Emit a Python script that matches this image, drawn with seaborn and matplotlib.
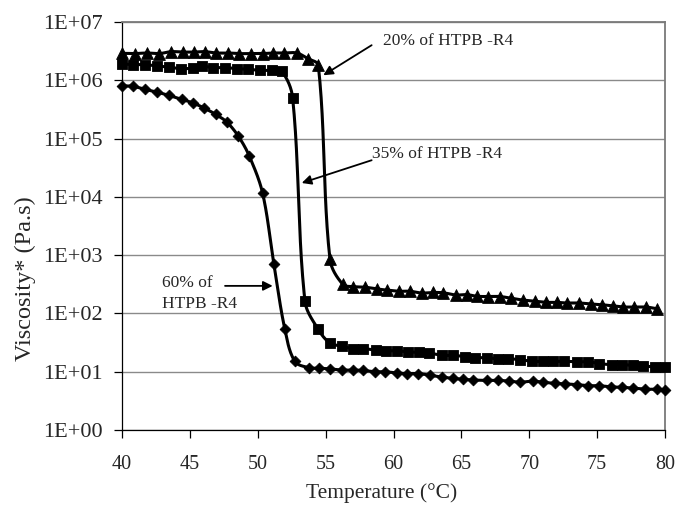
import numpy as np
import pandas as pd
import matplotlib
matplotlib.use("Agg")
import matplotlib.pyplot as plt
import seaborn as sns
from matplotlib.ticker import FixedLocator, FuncFormatter, NullLocator

# 20% of HTPB-R4 (triangles)
temp_20 = [40.00, 40.96, 41.82, 42.75, 43.59, 44.47, 45.33, 46.11, 46.92, 47.83,
           48.64, 49.50, 50.36, 51.15, 51.96, 52.87, 53.68, 54.46, 55.32, 56.26,
           57.04, 57.90, 58.76, 59.54, 60.43, 61.22, 62.08, 62.89, 63.67, 64.60,
           65.39, 66.13, 66.98, 67.85, 68.66, 69.52, 70.42, 71.23, 72.02, 72.76,
           73.69, 74.53, 75.34, 76.15, 76.93, 77.72, 78.60, 79.43]
visc_20 = [2.90e6, 2.87e6, 2.94e6, 2.87e6, 3.10e6, 3.05e6, 3.05e6, 3.10e6, 2.94e6, 2.94e6,
           2.87e6, 2.87e6, 2.87e6, 2.94e6, 2.94e6, 2.94e6, 2.36e6, 1.80e6, 850, 316,
           288, 282, 263, 251, 240, 240, 224, 229, 226, 207,
           211, 197, 195, 195, 182, 170, 162, 155, 155, 151,
           151, 145, 141, 135, 129, 129, 129, 120]

# 35% of HTPB-R4 (squares)
temp_35 = [40.00, 40.83, 41.69, 42.55, 43.46, 44.32, 45.21, 45.87, 46.73, 47.59,
           48.45, 49.30, 50.17, 51.03, 51.76, 52.57, 53.48, 54.46, 55.32, 56.18,
           57.04, 57.73, 58.71, 59.45, 60.23, 61.09, 61.90, 62.64, 63.55, 64.36,
           65.27, 66.00, 66.87, 67.72, 68.46, 69.32, 70.18, 70.99, 71.77, 72.56,
           73.50, 74.35, 75.16, 76.07, 76.81, 77.62, 78.40, 79.26, 80.00]
visc_35 = [1.90e6, 1.86e6, 1.86e6, 1.76e6, 1.69e6, 1.58e6, 1.62e6, 1.74e6, 1.65e6, 1.65e6,
           1.58e6, 1.55e6, 1.48e6, 1.48e6, 1.44e6, 5.0e5, 161, 53, 31, 27.5,
           24.7, 25.0, 23.4, 22.9, 22.9, 21.9, 21.4, 20.9, 19.1, 19.1,
           18.2, 17.4, 17.4, 16.6, 16.6, 16.2, 15.1, 15.1, 15.1, 15.1,
           14.8, 14.8, 13.8, 13.2, 13.2, 12.9, 12.6, 12.0, 12.0]

# 60% of HTPB-R4 (diamonds)
temp_60 = [40.00, 40.79, 41.69, 42.55, 43.46, 44.40, 45.21, 46.04, 46.90, 47.71,
           48.57, 49.38, 50.36, 51.19, 52.00, 52.74, 53.80, 54.53, 55.32, 56.18,
           57.04, 57.78, 58.64, 59.38, 60.24, 61.02, 61.83, 62.69, 63.55, 64.36,
           65.15, 65.88, 66.87, 67.72, 68.53, 69.32, 70.25, 71.03, 71.89, 72.63,
           73.49, 74.35, 75.16, 76.00, 76.81, 77.62, 78.53, 79.39, 80.00]
visc_60 = [8.0e5, 7.9e5, 7.0e5, 6.3e5, 5.5e5, 4.7e5, 4.1e5, 3.35e5, 2.6e5, 1.93e5,
           1.1e5, 5.0e4, 1.15e4, 700, 53, 15, 11.7, 11.5, 11.2, 10.7,
           10.7, 10.5, 10.0, 10.0, 9.5, 9.3, 9.3, 8.7, 8.1, 7.7,
           7.4, 7.2, 7.1, 7.1, 6.9, 6.6, 6.9, 6.6, 6.3, 6.2,
           6.0, 5.75, 5.75, 5.5, 5.4, 5.25, 5.0, 5.0, 4.8]

x_ticks = [40, 45, 50, 55, 60, 65, 70, 75, 80]
y_ticks = [1e0, 1e1, 1e2, 1e3, 1e4, 1e5, 1e6, 1e7]

# screen scale of the axes: pixels per degree and per decade
PX_PER_DEG = 543 / 40.0
PX_PER_DEC = 408 / 7.0


def smooth_curve(xs, ys, steps=24):
    """Smoothed line through the points: cubic Bezier pieces whose handles follow the
    neighbour direction and scale with the length of each segment (screen space)."""
    p = np.column_stack([np.asarray(xs, float) * PX_PER_DEG,
                         np.log10(np.asarray(ys, float)) * PX_PER_DEC])
    n = len(p)
    dirs = np.zeros_like(p)
    for i in range(n):
        a = p[max(i - 1, 0)]
        b = p[min(i + 1, n - 1)]
        d = b - a
        dirs[i] = d / np.hypot(*d)
    t = np.linspace(0, 1, steps + 1)[1:, None]
    out = [p[0]]
    for i in range(n - 1):
        p1, p2 = p[i], p[i + 1]
        arm = np.hypot(*(p2 - p1)) / 3.0
        c1 = p1 + dirs[i] * arm
        c2 = p2 - dirs[i + 1] * arm
        seg = ((1 - t) ** 3) * p1 + 3 * ((1 - t) ** 2) * t * c1 + 3 * (1 - t) * t ** 2 * c2 + t ** 3 * p2
        out.extend(seg)
    out = np.array(out)
    return out[:, 0] / PX_PER_DEG, 10 ** (out[:, 1] / PX_PER_DEC)


sns.set_style("ticks")
plt.rcParams["font.family"] = ["Liberation Serif", "DejaVu Serif"]

fig = plt.figure(figsize=(6.83, 5.08), dpi=100)
ax = fig.add_axes([122 / 683, 1 - 430 / 508, (665 - 122) / 683, (430 - 22) / 508])
ax.set_yscale("log")

series = [
    (temp_20, visc_20, "^", 72),
    (temp_35, visc_35, "s", 52),
    (temp_60, visc_60, "D", 30),
]
for temps, viscs, marker, size in series:
    sx, sy = smooth_curve(temps, viscs)
    curve = pd.DataFrame({"T": sx, "V": sy})
    sns.lineplot(data=curve, x="T", y="V", sort=False, estimator=None,
                 color="black", lw=2.2, ax=ax, zorder=3)
    pts = pd.DataFrame({"T": temps, "V": viscs})
    sns.scatterplot(data=pts, x="T", y="V", marker=marker, s=size, color="black",
                    edgecolor="black", linewidth=0.6, ax=ax, zorder=4, clip_on=False)

ax.set_xlim(40, 80)
ax.set_ylim(1, 1e7)
ax.xaxis.set_major_locator(FixedLocator(x_ticks))
ax.yaxis.set_major_locator(FixedLocator(y_ticks))
ax.yaxis.set_minor_locator(NullLocator())
ax.yaxis.set_major_formatter(FuncFormatter(lambda v, pos: "1E+%02d" % int(round(np.log10(v)))))
ax.yaxis.grid(True, color="#8a8a8a", lw=1.0)
ax.set_axisbelow(True)

for side in ["left", "bottom"]:
    ax.spines[side].set_color("black")
    ax.spines[side].set_linewidth(0.9)
for side in ["top", "right"]:
    ax.spines[side].set_color("#7a7a7a")
    ax.spines[side].set_linewidth(1.3)

ax.tick_params(axis="both", direction="out", length=6, width=0.9, color="black")
ax.tick_params(axis="x", labelsize=14.5, pad=12)
ax.tick_params(axis="y", labelsize=16, pad=8)
ax.set_xlabel("Temperature (\u00b0C)", fontsize=15.5)
ax.set_ylabel("Viscosity* (Pa.s)", fontsize=17.5)
ax.xaxis.set_label_coords(0.479, -0.131)
ax.yaxis.set_label_coords(-0.159, 0.37)

arrow = dict(arrowstyle="-|>", color="black", lw=1.3, mutation_scale=14, shrinkA=0, shrinkB=0)
ax.annotate("", xy=(54.83, 1.22e6), xytext=(58.39, 4.0e6), arrowprops=arrow, zorder=5)
ax.text(59.25, 4.1e6, "20% of HTPB -R4", fontsize=12.5, ha="left", va="baseline")
ax.annotate("", xy=(53.24, 1.73e4), xytext=(58.39, 4.25e4), arrowprops=arrow, zorder=5)
ax.text(58.42, 4.7e4, "35% of HTPB -R4", fontsize=12.5, ha="left", va="baseline")
ax.annotate("", xy=(51.10, 297), xytext=(47.59, 297), arrowprops=arrow, zorder=5)
ax.text(42.92, 285, "60% of", fontsize=12.5, ha="left", va="baseline")
ax.text(42.92, 126, "HTPB -R4", fontsize=12.5, ha="left", va="baseline")

fig.savefig("out.png", dpi=100)
